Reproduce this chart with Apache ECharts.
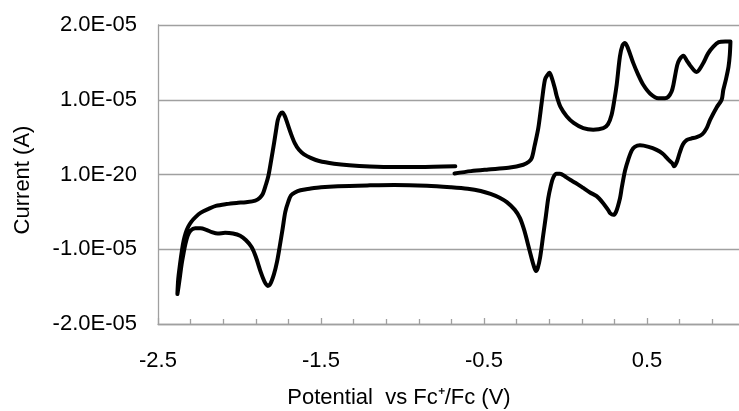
<!DOCTYPE html>
<html>
<head>
<meta charset="utf-8">
<script src="https://cdn.jsdelivr.net/npm/echarts@6/dist/echarts.min.js"></script>
<style>
html,body{margin:0;padding:0;background:#fff;}
#chart{width:739px;height:411px;}
</style>
</head>
<body>
<div id="chart"></div>
<script>
// Potential (V vs Fc+/Fc), in scan order
const potentialV = [
 -0.681,-0.58,-0.474,-0.35,-0.259,-0.225,-0.207,-0.19,-0.167,-0.145,-0.126,-0.111,-0.099,-0.085,-0.065,-0.054,-0.03,0.007,0.05,0.109,0.17,0.232,0.26,0.283,0.3,0.314,0.334,0.35,0.365,0.385,0.416,0.447,0.477,0.52,0.569,0.61,0.631,0.651,0.662,0.685,0.7,0.723,0.745,0.764,0.79,0.805,0.82,0.845,0.875,0.907,0.94,0.98,1.012,
 1.008,1.0,0.985,0.968,0.958,0.928,0.887,0.866,0.84,0.805,0.77,0.743,0.72,0.702,0.685,0.672,0.666,0.655,0.631,0.595,0.559,0.51,0.457,0.425,0.406,0.385,0.365,0.345,0.334,0.31,0.293,0.275,0.263,0.23,0.191,0.15,0.109,0.06,0.028,0.0,-0.034,-0.055,-0.075,-0.09,-0.106,-0.12,-0.136,-0.155,-0.17,-0.181,-0.195,-0.22,-0.24,-0.255,-0.28,-0.312,-0.36,-0.404,-0.46,-0.52,-0.6,-0.704,-0.85,-1.05,-1.2,-1.396,-1.5,-1.57,-1.626,-1.66,-1.684,-1.7,-1.719,-1.735,-1.753,-1.77,-1.788,-1.81,-1.826,-1.845,-1.869,-1.9,-1.926,-1.96,-1.996,-2.04,-2.088,-2.134,-2.17,-2.203,-2.24,-2.272,-2.3,-2.318,-2.332,-2.342,-2.355,-2.365,-2.374,-2.381,
 -2.376,-2.365,-2.352,-2.342,-2.33,-2.315,-2.295,-2.27,-2.237,-2.19,-2.145,-2.08,-2.018,-1.96,-1.903,-1.875,-1.857,-1.84,-1.823,-1.805,-1.788,-1.775,-1.765,-1.75,-1.737,-1.722,-1.707,-1.685,-1.661,-1.635,-1.604,-1.56,-1.511,-1.42,-1.327,-1.2,-1.05,-0.9,-0.676
];
// Current, in units of 1e-5 A, same order
const current1e5A = [
 0.013,0.045,0.067,0.09,0.13,0.17,0.22,0.38,0.62,0.98,1.27,1.33,1.36,1.3,1.15,1.05,0.9,0.78,0.69,0.62,0.6,0.62,0.67,0.8,1.0,1.2,1.58,1.73,1.76,1.68,1.49,1.33,1.2,1.08,1.02,1.02,1.04,1.11,1.2,1.46,1.54,1.59,1.52,1.46,1.39,1.37,1.4,1.49,1.62,1.71,1.77,1.78,1.78,
 1.6,1.44,1.28,1.13,1.0,0.9,0.73,0.62,0.54,0.5,0.48,0.46,0.4,0.3,0.18,0.12,0.11,0.15,0.2,0.28,0.33,0.37,0.39,0.37,0.32,0.2,0.05,-0.18,-0.32,-0.5,-0.54,-0.52,-0.48,-0.38,-0.29,-0.24,-0.18,-0.11,-0.07,-0.03,0.01,0.01,-0.04,-0.15,-0.32,-0.55,-0.8,-1.1,-1.25,-1.29,-1.22,-1.02,-0.85,-0.73,-0.58,-0.47,-0.37,-0.31,-0.26,-0.22,-0.19,-0.17,-0.15,-0.14,-0.145,-0.156,-0.17,-0.19,-0.21,-0.24,-0.28,-0.36,-0.5,-0.72,-0.96,-1.17,-1.33,-1.46,-1.49,-1.44,-1.31,-1.1,-0.97,-0.88,-0.82,-0.79,-0.78,-0.79,-0.77,-0.74,-0.72,-0.72,-0.75,-0.82,-0.93,-1.04,-1.2,-1.36,-1.5,-1.6,
 -1.4,-1.2,-1.0,-0.88,-0.78,-0.7,-0.63,-0.57,-0.51,-0.46,-0.42,-0.395,-0.38,-0.37,-0.35,-0.31,-0.26,-0.15,-0.02,0.2,0.42,0.6,0.73,0.81,0.83,0.78,0.69,0.55,0.42,0.33,0.27,0.22,0.18,0.145,0.124,0.108,0.10,0.10,0.11
];
const xTickLabels = ['-2.5','-1.5','-0.5','0.5','1.5'];
const yTickLabels = ['-2.0E-05','-1.0E-05','1.0E-20','1.0E-05','2.0E-05'];
const xTitle = 'Potential  vs Fc\u207A/Fc (V)';
const yTitle = 'Current (A)';

const X_MIN = -2.5, X_MAX = 1.5, X_STEP = 1;
const Y_MIN = -2, Y_MAX = 2, Y_STEP = 1;

const seriesData = potentialV.map((p, i) => [p, current1e5A[i]]);
const FONT = '"Liberation Sans", Arial, sans-serif';
const GRAY = '#a0a0a0';

const chart = echarts.init(document.getElementById('chart'), null, {renderer: 'canvas'});
chart.setOption({
  animation: false,
  backgroundColor: '#ffffff',
  grid: {left: 158, top: 25, right: -71, bottom: 87, outerBoundsMode: 'none', containLabel: false},
  xAxis: {
    type: 'value', min: X_MIN, max: X_MAX, interval: X_STEP,
    axisLine: {show: true, onZero: false, lineStyle: {color: GRAY, width: 1.3}},
    axisTick: {show: true, inside: true, length: 6, lineStyle: {color: GRAY, width: 1.3}},
    minorTick: {show: true, splitNumber: 5, length: 5, lineStyle: {color: GRAY, width: 1.3}},
    splitLine: {show: false},
    axisLabel: {
      margin: 26, color: '#000', fontFamily: FONT, fontSize: 22,
      formatter: v => xTickLabels[Math.round((v - X_MIN) / X_STEP)] ?? ''
    }
  },
  yAxis: {
    type: 'value', min: Y_MIN, max: Y_MAX, interval: Y_STEP,
    axisLine: {show: true, onZero: false, lineStyle: {color: GRAY, width: 1.3}},
    axisTick: {show: false},
    splitLine: {show: true, lineStyle: {color: GRAY, width: 1.3}},
    axisLabel: {
      margin: 21, color: '#000', fontFamily: FONT, fontSize: 22,
      formatter: v => yTickLabels[Math.round((v - Y_MIN) / Y_STEP)] ?? ''
    }
  },
  graphic: [
    {type: 'text', x: 399, y: 398, style: {text: xTitle, fill: '#000', font: '22px ' + FONT, align: 'center', verticalAlign: 'middle'}},
    {type: 'text', x: 23, y: 180, rotation: Math.PI / 2, style: {text: yTitle, fill: '#000', font: '22px ' + FONT, align: 'center', verticalAlign: 'middle'}}
  ],
  series: [{
    type: 'line', data: seriesData, showSymbol: false, symbol: 'none',
    smooth: 0.3, clip: true,
    lineStyle: {color: '#000', width: 4, join: 'round', cap: 'round'}
  }]
});
</script>
</body>
</html>
